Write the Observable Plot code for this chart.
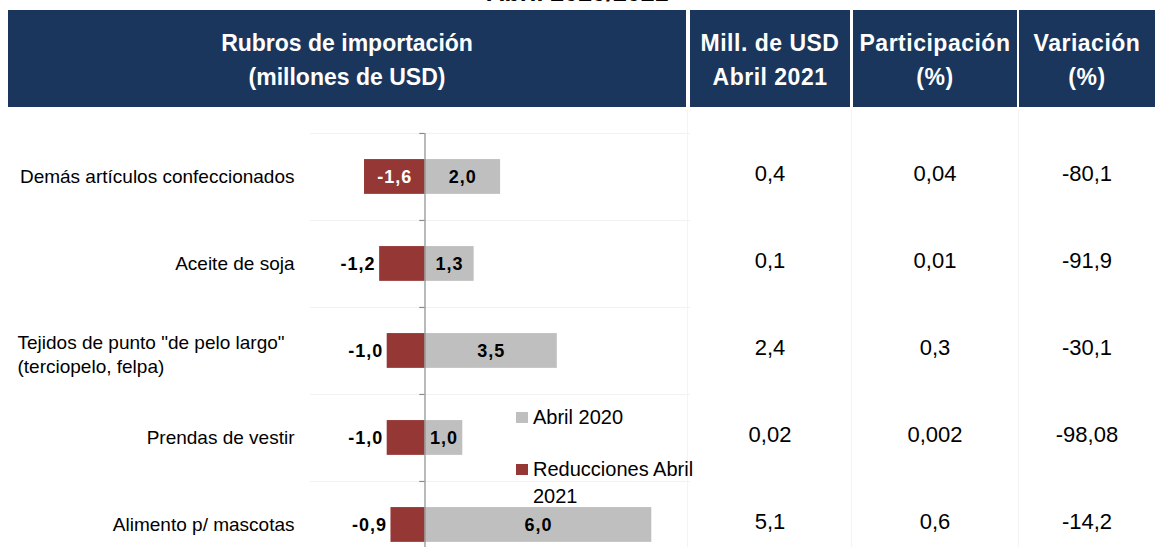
<!DOCTYPE html>
<html>
<head>
<meta charset="utf-8">
<script src="https://cdn.jsdelivr.net/npm/d3@7"></script>
<script src="https://cdn.jsdelivr.net/npm/@observablehq/plot@0.6"></script>
<style>
  html, body { margin: 0; padding: 0; background: #fff; }
  body { width: 1155px; height: 547px; overflow: hidden; position: relative; font-family: "Liberation Sans", Arial, sans-serif; }
  .title { position: absolute; left: 0; width: 1155px; top: -20px; line-height: 25px; text-align: center; font-size: 25px; font-weight: bold; color: #000; }
  .hcell { position: absolute; top: 10px; height: 97px; background: #1a365d; color: #fff; font-weight: bold; font-size: 23px; line-height: 34px; display: flex; flex-direction: column; justify-content: center; align-items: center; text-align: center; padding-top: 2px; box-sizing: border-box; }
  .hcell div { white-space: nowrap; }
  .vcell { position: absolute; height: 87px; font-size: 22px; display: flex; align-items: center; justify-content: center; color: #000; }
  .colline { position: absolute; top: 110px; height: 437px; width: 1px; background: #f4f4f4; }
  #chart { position: absolute; left: 0; top: 110px; }
  .legend { position: absolute; left: 516px; font-size: 20px; line-height: 27px; color: #000; }
  .legend .item { position: relative; padding-left: 17px; width: 175px; }
  .legend .sw { position: absolute; left: 0; top: 8px; width: 12px; height: 11px; }
</style>
</head>
<body>
<script>
// ---- Data ----
const title = "Abril 2020/2021";
const categories = [
  "Demás artículos confeccionados",
  "Aceite de soja",
  "Tejidos de punto \"de pelo largo\"\n(terciopelo, felpa)",
  "Prendas de vestir",
  "Alimento p/ mascotas"
];
const abril2020 = [2.0, 1.3, 3.5, 1.0, 6.0];
const reducciones2021 = [-1.6, -1.2, -1.0, -1.0, -0.9];
const millUSD2021 = [0.4, 0.1, 2.4, 0.02, 5.1];
const participacion = [0.04, 0.01, 0.3, 0.002, 0.6];
const variacion = [-80.1, -91.9, -30.1, -98.08, -14.2];
const headers = [
  ["Rubros de importación", "(millones de USD)"],
  ["Mill. de USD", "Abril 2021"],
  ["Participación", "(%)"],
  ["Variación", "(%)"]
];
const seriesNames = ["Abril 2020", "Reducciones Abril 2021"];
const colors = ["#bfbfbf", "#953735"];

// ---- Layout (page) ----
const fmt1 = v => v.toFixed(1).replace(".", ",");
const fmtT = v => v.toLocaleString("es-ES", {minimumFractionDigits: 0, maximumFractionDigits: 3, useGrouping: false});

const t = document.createElement("div");
t.className = "title"; t.textContent = title;
document.body.appendChild(t);

const cols = [[8, 678], [690, 160], [853, 164], [1019, 136]];
headers.forEach((h, k) => {
  const c = document.createElement("div");
  c.className = "hcell";
  c.style.left = cols[k][0] + "px";
  c.style.width = cols[k][1] + "px";
  c.style.letterSpacing = k === 0 ? "0px" : "0.5px";
  h.forEach(line => { const d = document.createElement("div"); d.textContent = line; c.appendChild(d); });
  document.body.appendChild(c);
});

[687, 851, 1018].forEach(x => {
  const l = document.createElement("div"); l.className = "colline"; l.style.left = x + "px";
  document.body.appendChild(l);
});

// ---- Chart ----
const rows = categories.map((name, i) => ({
  i, name, a: abril2020[i], r: reducciones2021[i], multi: name.includes("\n")
}));
const bounds = d3.range(categories.length).map(i => i - 0.5);
const half = 0.2;

const chart = Plot.plot({
  width: 690,
  height: 437,
  marginLeft: 310,
  marginRight: 0,
  marginTop: 0,
  marginBottom: 0,
  style: { fontFamily: "Liberation Sans, Arial, sans-serif", background: "transparent", overflow: "visible" },
  x: { domain: [-3.029, 7.024], axis: null },
  y: { domain: [-0.764, 4.259], reverse: true, axis: null },
  marks: [
    Plot.ruleY(bounds, { stroke: "#f2f2f2", strokeWidth: 1 }),
    Plot.rect(rows, { x1: 0, x2: "a", y1: d => d.i - half, y2: d => d.i + half, fill: colors[0] }),
    Plot.rect(rows, { x1: "r", x2: 0, y1: d => d.i - half, y2: d => d.i + half, fill: colors[1] }),
    Plot.ruleX([0], { y1: -0.5, y2: 4.259, stroke: "#8c8c8c", strokeWidth: 1.2 }),
    Plot.ruleY(bounds, { x1: -0.14, x2: 0, stroke: "#8c8c8c", strokeWidth: 1.2 }),
    // bar labels
    Plot.text(rows, { x: d => d.a / 2, y: "i", text: d => fmt1(d.a), fontSize: 18, fontWeight: "bold", fill: "#000" }),
    Plot.text(rows.filter(d => d.r <= -1.5), { x: d => d.r / 2, y: "i", text: d => fmt1(d.r), fontSize: 18, fontWeight: "bold", fill: "#fff" }),
    Plot.text(rows.filter(d => d.r > -1.5), { x: "r", y: "i", text: d => fmt1(d.r), textAnchor: "end", dx: -4, fontSize: 18, fontWeight: "bold", fill: "#000" }),
    // category labels
    Plot.text(rows.filter(d => !d.multi), { frameAnchor: "left", y: "i", text: "name", textAnchor: "end", dx: -16, fontSize: 19, fill: "#000" }),
    Plot.text(rows.filter(d => d.multi), { frameAnchor: "left", y: "i", text: "name", textAnchor: "start", dx: -293, dy: 2, lineHeight: 1.3, fontSize: 19, fill: "#000" })
  ]
});
chart.querySelectorAll('[font-weight="bold"]').forEach(el => el.setAttribute("letter-spacing", "1px"));
const holder = document.createElement("div");
holder.id = "chart";
holder.appendChild(chart);
document.body.appendChild(holder);

// ---- Table values aligned with chart rows ----
const rowTop = 133;
const step = 87;
[millUSD2021, participacion, variacion].forEach((arr, k) => {
  arr.forEach((v, i) => {
    const c = document.createElement("div");
    c.className = "vcell";
    c.style.left = cols[k + 1][0] + "px";
    c.style.width = cols[k + 1][1] + "px";
    c.style.top = (rowTop + step * i - 3) + "px";
    c.textContent = fmtT(v);
    document.body.appendChild(c);
  });
});

// ---- Legend ----
const lg = document.createElement("div");
lg.className = "legend";
lg.style.top = "404px";
seriesNames.forEach((s, k) => {
  const it = document.createElement("div");
  it.className = "item";
  if (k > 0) it.style.marginTop = "25px";
  const sw = document.createElement("span");
  sw.className = "sw"; sw.style.background = colors[k];
  it.appendChild(sw);
  it.appendChild(document.createTextNode(s));
  lg.appendChild(it);
});
document.body.appendChild(lg);
</script>
</body>
</html>
